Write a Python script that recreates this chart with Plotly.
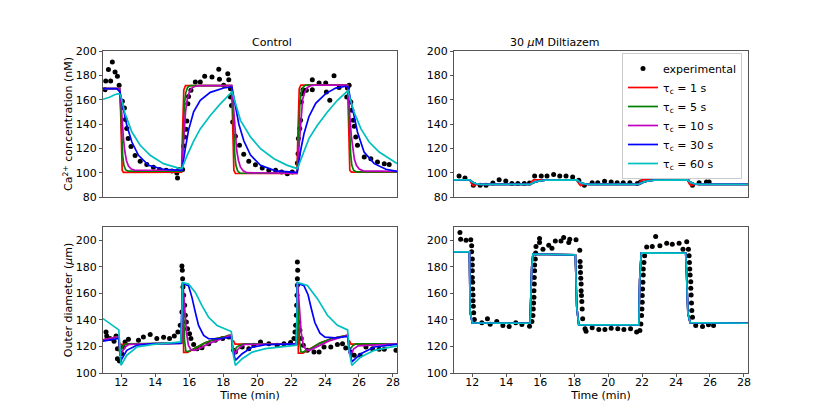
import plotly.graph_objects as go

# ---------------- Control: Ca2+ (top left) ----------------
ctrl_ca_exp_t = [11.04, 11.08, 11.24, 11.37, 11.47, 11.63, 11.77, 11.87, 12.06, 12.18, 12.24, 12.32, 12.40,
                 12.57, 12.81, 13.11, 13.50, 13.89, 14.25, 14.64, 14.98, 15.27, 15.31, 15.39, 15.61, 15.67,
                 15.73, 15.81, 15.86, 15.92, 15.96, 16.10, 16.36, 16.65, 16.91, 17.34, 17.74, 17.78, 18.03,
                 18.27, 18.33, 18.43, 18.43, 18.49, 18.56, 18.72, 18.96, 19.21, 19.51, 19.90, 20.30, 20.69,
                 21.09, 21.44, 21.78, 22.07, 22.37, 22.41, 22.43, 22.51, 22.56, 22.60, 22.66, 22.70, 22.90,
                 23.25, 23.25, 23.65, 24.04, 24.08, 24.28, 24.53, 24.83, 25.32, 25.28, 25.42, 25.52, 25.58,
                 25.66, 25.72, 25.81, 25.91, 26.31, 26.70, 27.09, 27.49, 27.78]
ctrl_ca_exp = [168.2, 175.3, 184.7, 175.3, 191.0, 182.7, 179.2, 171.8, 158.6, 153.2, 143.6, 136.2, 128.0,
               121.6, 114.2, 109.3, 106.8, 104.4, 102.5, 101.9, 101.4, 99.7, 95.6, 102.5, 102.5, 121.9,
               129.3, 135.6, 142.5, 156.7, 162.7, 167.7, 174.5, 174.5, 179.2, 178.6, 184.9, 176.7, 171.8,
               181.4, 176.4, 169.0, 162.2, 155.3, 141.6, 129.9, 122.5, 115.1, 109.3, 106.6, 103.8, 101.9,
               101.9, 100.5, 99.2, 100.5, 107.9, 115.6, 128.0, 136.2, 143.0, 158.1, 164.9, 168.2, 167.7,
               176.4, 168.2, 173.7, 173.7, 166.3, 159.5, 179.7, 169.9, 169.6, 162.2, 171.8, 158.1, 151.2,
               143.0, 138.1, 129.3, 122.5, 112.9, 111.5, 108.8, 107.4, 106.8]

ctrl_ca_t1 = [10.92, 11.90, 11.96, 12.00, 12.05, 12.12, 15.55, 15.59, 15.63, 15.68, 15.78, 18.50, 18.54, 18.58,
              18.63, 18.72, 22.35, 22.39, 22.43, 22.48, 22.58, 25.33, 25.37, 25.41, 25.46, 25.55, 28.24]
ctrl_ca_1 = [169, 169, 150, 115, 102, 100.3, 100.5, 125, 155, 168, 171.5, 171.5, 150, 115,
             102, 99.3, 99.3, 125, 155, 169, 172, 172, 150, 115, 102, 100.5, 100.5]

ctrl_ca_t5 = [10.92, 11.90, 11.96, 12.02, 12.08, 12.15, 12.25, 12.40, 15.55, 15.60, 15.66, 15.72, 15.80,
              15.90, 16.05, 18.50, 18.56, 18.62, 18.68, 18.75, 18.85, 19.00, 22.35, 22.40, 22.46, 22.52,
              22.60, 22.70, 22.85, 25.33, 25.39, 25.45, 25.51, 25.58, 25.68, 25.83, 28.24]
ctrl_ca_5 = [169, 169, 155, 130, 114, 106, 102.5, 101.2, 101.3, 115, 140, 157, 166,
             170, 171.5, 171.5, 157, 132, 115, 106, 101.5, 99.5, 99.5, 114, 139, 157,
             166, 170, 172, 172, 157, 132, 115, 106, 102, 100.7, 100.7]

ctrl_ca_t10 = [10.92, 11.90, 11.97, 12.04, 12.12, 12.20, 12.30, 12.42, 12.58, 12.80, 15.55, 15.62, 15.70,
               15.78, 15.88, 16.00, 16.15, 16.35, 16.60, 18.50, 18.57, 18.64, 18.72, 18.80, 18.90, 19.02,
               19.18, 19.40, 22.35, 22.42, 22.50, 22.58, 22.68, 22.80, 22.95, 23.15, 23.40, 25.33, 25.40,
               25.47, 25.55, 25.63, 25.73, 25.85, 26.01, 26.25, 28.24]
ctrl_ca_10 = [169, 169, 160, 144, 129, 118, 110, 105.5, 103, 102, 102, 115, 135,
              150, 160, 166, 169.5, 171, 171.5, 171.5, 161, 145, 129, 118, 110, 104.5,
              101.5, 100, 99.5, 113, 133, 149, 160, 166, 170, 171.5, 172, 172, 161,
              145, 130, 119, 111, 106, 103, 101.5, 101]

ctrl_ca_t30 = [10.92, 11.73, 11.92, 12.12, 12.32, 12.62, 13.01, 13.60, 14.48, 15.47, 15.57, 15.77, 15.96,
               16.26, 16.65, 17.24, 18.03, 18.45, 18.52, 18.72, 18.92, 19.22, 19.61, 20.20, 21.08, 22.30,
               22.37, 22.56, 22.76, 23.05, 23.45, 24.04, 24.63, 25.22, 25.35, 25.62, 25.91, 26.30, 26.90,
               27.59, 28.24]
ctrl_ca_30 = [169, 169, 166.3, 152.6, 138.9, 125.2, 114.3, 106.1, 102.8, 101.9, 102, 120, 135,
              150, 159.5, 166, 169.6, 170.4, 170, 155, 140, 126, 114.5, 106, 101.5, 100.2,
              100.5, 118, 132, 146, 157, 165, 169.5, 171, 170.5, 152.6, 133.4, 117, 107.4,
              102.8, 101]

ctrl_ca_t60 = [10.92, 11.30, 11.60, 11.85, 11.95, 12.22, 12.62, 13.11, 13.70, 14.48, 15.47, 15.57, 15.87,
               16.26, 16.65, 17.24, 17.83, 18.33, 18.52, 18.62, 19.02, 19.61, 20.20, 20.99, 21.78, 22.37,
               22.66, 23.05, 23.55, 24.14, 24.73, 25.22, 25.35, 25.42, 25.71, 26.11, 26.60, 27.19, 27.78,
               28.24]
ctrl_ca_60 = [160.3, 162, 164, 165, 164, 148.5, 133.4, 122.5, 114.3, 107.4, 103.3, 103.5, 114,
              126, 136, 147, 156.5, 164, 166.5, 162, 143, 129.3, 119.7, 111.5, 106, 103.3,
              114.3, 128, 138.9, 149.9, 159.5, 166.5, 167.5, 163.6, 149.9, 136.2, 125.2, 117, 111.5,
              107.5]

# ---------------- Diltiazem: Ca2+ (top right) ----------------
dil_ca_exp_t = [11.22, 11.57, 12.06, 12.46, 12.81, 13.21, 13.58, 13.97, 14.33, 14.68, 15.06, 15.37, 15.67,
                16.06, 16.40, 16.79, 17.15, 17.52, 17.91, 18.27, 18.60, 19.06, 19.39, 19.79, 20.18, 20.53,
                20.89, 21.28, 21.72, 21.91, 22.25, 22.60, 22.99, 23.39, 23.78, 24.18, 24.53, 24.77, 24.97,
                25.36, 25.79, 25.95]
dil_ca_exp = [97.3, 95.6, 89.6, 89.6, 89.6, 91.5, 94.2, 93.2, 91.0, 91.0, 91.0, 91.5, 97.3,
              97.3, 97.3, 98.4, 97.3, 97.3, 96.4, 93.7, 89.6, 91.8, 91.8, 92.9, 92.3, 91.8,
              91.8, 91.8, 91.0, 92.3, 97.3, 97.3, 97.3, 97.3, 97.3, 97.3, 97.3, 96.4, 89.6,
              91.8, 92.3, 92.3]

dil_ca_fast_t = [10.92, 11.85, 11.95, 12.05, 12.25, 15.40, 15.48, 15.60, 18.17, 18.27, 18.37, 18.60, 21.80,
                 21.88, 22.00, 24.67, 24.77, 24.87, 25.10, 28.24]
dil_ca_fast = [94, 94, 91, 89.3, 90.3, 90.3, 92.5, 94, 94, 91, 89.5, 90.3, 90.3,
               92.5, 94, 94, 91, 89.5, 90.4, 90.4]

dil_ca_slow_t = [10.92, 11.85, 12.00, 12.20, 12.50, 15.40, 15.60, 15.90, 16.30, 18.17, 18.32, 18.55, 18.85,
                 21.80, 22.00, 22.30, 22.70, 24.67, 24.82, 25.05, 25.35, 28.24]
dil_ca_slow = [94, 94, 92.3, 91, 90.4, 90.4, 91.8, 93, 93.8, 94, 92.3, 91, 90.3,
               90.3, 91.8, 93, 93.8, 94, 92.3, 91, 90.4, 90.4]

# ---------------- Control: diameter (bottom left) ----------------
ctrl_d_exp_t = [11.10, 11.14, 11.33, 11.57, 11.69, 11.77, 11.77, 11.89, 12.02, 12.12, 12.22, 12.42, 13.01,
                13.30, 13.70, 14.09, 14.49, 14.84, 15.12, 15.33, 15.47, 15.57, 15.57, 15.59, 15.61, 15.63,
                15.67, 15.73, 15.77, 15.83, 15.90, 16.02, 16.10, 16.26, 16.46, 16.75, 17.15, 17.54, 17.97,
                18.33, 18.62, 18.72, 19.12, 19.51, 19.81, 20.20, 20.69, 21.18, 21.58, 21.97, 22.17, 22.23,
                22.27, 22.31, 22.33, 22.35, 22.37, 22.37, 22.39, 22.37, 22.45, 22.52, 22.60, 22.72, 22.96,
                23.35, 23.65, 23.94, 24.34, 24.73, 25.03, 25.22, 25.52, 25.72, 26.07, 26.41, 26.80, 27.19,
                27.49, 28.18]
ctrl_d_exp = [130.9, 127.9, 125.9, 123.9, 127.9, 118.3, 110.8, 109.0, 114.6, 119.6, 123.4, 125.4, 124.6,
              127.1, 129.1, 125.9, 126.9, 125.9, 127.9, 130.9, 135.9, 146.0, 180.7, 177.4, 171.1, 164.8,
              158.5, 151.0, 143.5, 138.4, 133.4, 129.6, 125.9, 121.4, 118.3, 119.1, 122.1, 124.6, 125.9,
              127.1, 117.1, 115.8, 119.6, 118.3, 120.9, 123.4, 122.1, 120.9, 122.1, 122.9, 125.9, 130.9,
              135.9, 143.5, 151.0, 158.5, 166.1, 171.1, 177.4, 183.7, 138.4, 132.2, 125.9, 120.9, 117.1,
              115.8, 115.8, 119.6, 119.6, 121.4, 122.1, 118.8, 115.8, 113.3, 113.3, 119.6, 118.3, 117.8,
              117.8, 117.1]

ctrl_d_t1 = [10.92, 11.85, 11.90, 12.00, 15.55, 15.59, 15.61, 15.64, 15.67, 15.90, 16.30, 16.90, 17.60,
             18.48, 18.52, 18.62, 18.70, 22.33, 22.35, 22.37, 22.40, 22.43, 22.70, 23.10, 23.70, 24.40,
             25.33, 25.37, 25.45, 25.53, 28.24]
ctrl_d_1 = [125, 127.5, 121.5, 121.5, 122.5, 150, 168, 140, 115.5, 115.5, 118.5, 122.5, 126,
            128.5, 124.5, 124, 121.8, 121.8, 150, 168, 140, 115, 115, 118, 122.5, 126,
            128.5, 124.5, 124, 121.8, 121.8]

ctrl_d_t5 = [10.92, 11.85, 11.88, 12.00, 12.12, 12.35, 15.55, 15.59, 15.61, 15.66, 15.72, 15.80, 15.90,
             16.30, 16.90, 17.60, 18.48, 18.55, 18.66, 18.80, 18.96, 19.20, 22.33, 22.35, 22.37, 22.43,
             22.50, 22.58, 22.70, 23.10, 23.70, 24.40, 25.33, 25.40, 25.50, 25.63, 25.80, 28.24]
ctrl_d_5 = [125, 127.5, 116, 117.5, 120.8, 122, 122.5, 150, 168, 150, 125, 116.5, 116,
            118.5, 122.5, 126, 128.5, 118, 117, 119.5, 120.8, 122, 122, 150, 168, 148,
            124, 116, 115.8, 118, 122.5, 126, 128.5, 119.5, 118.3, 120.5, 122, 122]

ctrl_d_t10 = [10.92, 11.85, 11.92, 12.05, 12.22, 12.45, 15.55, 15.59, 15.61, 15.66, 15.74, 15.84, 15.95,
              16.10, 16.30, 16.60, 17.20, 17.90, 18.48, 18.58, 18.70, 18.85, 19.00, 19.25, 22.33, 22.35,
              22.37, 22.42, 22.50, 22.60, 22.72, 22.88, 23.10, 23.50, 24.20, 25.33, 25.43, 25.50, 25.68,
              25.95, 28.24]
ctrl_d_10 = [125, 127.5, 113.3, 116.5, 119.6, 121.6, 122.5, 150, 168, 162, 145, 130, 121,
             117.5, 117, 118.5, 122.5, 126, 128.5, 118, 114.5, 117.5, 119.5, 121.5, 122, 150,
             168, 162, 145, 130, 121, 117.5, 117.1, 119.5, 124, 128.4, 115, 113.3, 118,
             120.4, 122]

ctrl_d_t30 = [10.92, 11.85, 11.98, 12.32, 12.91, 13.90, 15.50, 15.57, 15.61, 15.96, 16.16, 16.36, 16.55,
              16.85, 17.14, 17.73, 18.48, 18.56, 18.72, 19.12, 19.71, 20.49, 21.68, 22.30, 22.35, 22.37,
              22.75, 23.00, 23.20, 23.40, 23.70, 24.00, 24.60, 25.33, 25.42, 25.58, 26.11, 26.90, 28.24]
ctrl_d_30 = [124, 126, 109.5, 117.1, 120.9, 122.1, 122.3, 145, 167.5, 165.7, 157, 145.7, 135.8,
             128.3, 125.8, 125.8, 127, 118, 109.5, 114.5, 119.5, 121.3, 122, 122, 145, 167.5,
             166, 159, 148, 138, 130, 127, 126.5, 127.5, 120, 108.3, 114.6, 119.6, 121.6]

ctrl_d_t60 = [10.92, 11.30, 11.73, 11.85, 11.98, 12.32, 12.91, 13.90, 15.08, 15.50, 15.57, 15.61, 15.96,
              16.36, 16.75, 17.14, 17.64, 18.13, 18.48, 18.58, 18.72, 19.12, 19.71, 20.49, 21.68, 22.30,
              22.35, 22.37, 22.96, 23.55, 24.14, 24.73, 25.33, 25.43, 25.58, 26.11, 26.90, 28.24]
ctrl_d_60 = [141, 137.5, 133.4, 132.5, 105.8, 113.3, 119.6, 121.6, 122.9, 123.4, 145, 168.2, 167,
             160.7, 150.7, 142, 135.8, 133.3, 131.3, 115, 105.8, 110.8, 115.7, 118.3, 120.2, 121,
             145, 168.2, 166, 156, 143.5, 135.9, 132.5, 116, 105.8, 112.1, 117.1, 120.4]

# ---------------- Diltiazem: diameter (bottom right) ----------------
dil_d_exp_t = [11.27, 11.31, 11.63, 11.91,
               11.96, 11.96, 12.00, 12.00, 12.00, 12.00, 12.02, 12.02, 12.04, 12.04, 12.06, 12.08,
               12.12, 12.56, 12.89, 13.05, 13.44, 13.80, 14.17, 14.56, 14.92, 15.37, 15.51,
               15.57, 15.59, 15.61, 15.63, 15.63, 15.65, 15.65, 15.67, 15.67, 15.71, 15.73, 15.75,
               15.96, 15.96, 16.16, 16.50, 16.69, 16.89, 17.22, 17.38, 17.68, 17.74, 18.11,
               18.33, 18.35, 18.36, 18.37, 18.39, 18.41, 18.41, 18.43, 18.45, 18.47, 18.50, 18.64, 18.70,
               19.06, 19.45, 19.81, 20.18, 20.57, 20.93, 21.32, 21.68, 21.87,
               21.93, 21.97, 21.99, 22.01, 22.01, 22.03, 22.05, 22.07, 22.07, 22.11, 22.15, 22.27,
               22.60, 22.80, 23.05, 23.45, 23.78, 24.18, 24.41, 24.63, 24.73,
               24.77, 24.79, 24.81, 24.83, 24.87, 24.87, 24.89, 24.91, 24.93, 24.97,
               25.16, 25.56, 25.91, 26.21]
dil_d_exp = [205.8, 200.8, 200.0, 200.3,
             195.8, 191.3, 185.8, 181.3, 177.0, 172.0, 168.3, 163.3, 158.8, 154.5, 150.3, 145.3,
             140.3, 137.8, 140.8, 136.8, 138.8, 135.8, 135.0, 137.8, 136.5, 135.3, 138.8,
             143.3, 148.3, 152.8, 157.0, 162.0, 167.0, 172.0, 177.0, 181.3, 185.8, 190.5, 195.3,
             201.3, 198.3, 193.3, 196.3, 194.0, 199.5, 199.5, 202.0, 198.3, 200.8, 200.3,
             192.5, 184.0, 180.0, 175.8, 171.3, 167.0, 162.0, 158.3, 153.8, 148.3, 140.8, 133.3, 131.5,
             134.0, 132.8, 132.8, 133.8, 133.3, 132.8, 133.3, 130.8, 132.0,
             137.0, 143.3, 148.3, 153.3, 158.3, 163.3, 168.3, 173.8, 178.3, 183.3, 188.3, 195.0,
             195.3, 202.8, 195.8, 197.8, 197.0, 197.8, 193.3, 198.8, 193.3,
             188.3, 183.3, 178.3, 173.8, 168.8, 163.8, 158.8, 152.8, 147.0, 142.0,
             135.8, 135.0, 136.3, 135.8]

dil_d_model_t = [10.92, 11.83, 11.87, 12.00, 15.40, 15.45, 15.50, 15.57, 18.07, 18.15, 18.27, 21.81, 21.86,
                 21.95, 24.57, 24.62, 24.70, 24.83, 28.24]
dil_d_model = [191.3, 191.3, 145.8, 137.8, 137.5, 170, 180, 189.5, 189, 150, 136.3, 136.3, 170,
               190.5, 190.3, 175, 145, 138, 137.5]

tau_names = ["τ<sub>c</sub> = 1 s", "τ<sub>c</sub> = 5 s", "τ<sub>c</sub> = 10 s",
             "τ<sub>c</sub> = 30 s", "τ<sub>c</sub> = 60 s"]
tau_colors = ["#ff0000", "#008000", "#bf00bf", "#0000ff", "#00bfbf"]

ctrl_ca_curves = [(ctrl_ca_t1, ctrl_ca_1), (ctrl_ca_t5, ctrl_ca_5), (ctrl_ca_t10, ctrl_ca_10),
                  (ctrl_ca_t30, ctrl_ca_30), (ctrl_ca_t60, ctrl_ca_60)]
dil_ca_curves = [(dil_ca_fast_t, dil_ca_fast), (dil_ca_slow_t, dil_ca_slow), (dil_ca_slow_t, dil_ca_slow),
                 (dil_ca_slow_t, dil_ca_slow), (dil_ca_slow_t, dil_ca_slow)]
ctrl_d_curves = [(ctrl_d_t1, ctrl_d_1), (ctrl_d_t5, ctrl_d_5), (ctrl_d_t10, ctrl_d_10),
                 (ctrl_d_t30, ctrl_d_30), (ctrl_d_t60, ctrl_d_60)]
dil_d_curves = [(dil_d_model_t, dil_d_model)] * 5

panels = [
    ("x", "y", ctrl_ca_exp_t, ctrl_ca_exp, ctrl_ca_curves, False),
    ("x2", "y2", dil_ca_exp_t, dil_ca_exp, dil_ca_curves, True),
    ("x3", "y3", ctrl_d_exp_t, ctrl_d_exp, ctrl_d_curves, False),
    ("x4", "y4", dil_d_exp_t, dil_d_exp, dil_d_curves, False),
]

fig = go.Figure()
for xa, ya, et, ev, curves, legend in panels:
    fig.add_trace(go.Scatter(x=et, y=ev, mode="markers", name="experimental", xaxis=xa, yaxis=ya,
                             marker=dict(color="black", size=5), showlegend=legend))
    for (ct, cv), name, col in zip(curves, tau_names, tau_colors):
        fig.add_trace(go.Scatter(x=ct, y=cv, mode="lines", name=name, xaxis=xa, yaxis=ya,
                                 line=dict(color=col, width=1.7), showlegend=legend))

# the page body has an 8 px margin, so positions below are the reference ones minus 8 px
font = "DejaVu Sans, Arial, sans-serif"
ax = dict(showline=True, mirror=True, linecolor="#555", linewidth=1, ticks="outside", ticklen=3,
          tickcolor="#555", tickfont=dict(size=11, color="black"), showgrid=False, zeroline=False)
xr = [10.92, 28.24]
left = [95 / 831, 389 / 831]
right = [446 / 831, 740 / 831]
top = [1 - 189 / 419, 1 - 43 / 419]
bottom = [1 - 365 / 419, 1 - 219 / 419]

fig.update_layout(
    width=831, height=419, template="none",
    margin=dict(l=0, r=0, t=0, b=0),
    paper_bgcolor="white", plot_bgcolor="white",
    font=dict(family=font, size=11, color="black"),
    xaxis=dict(ax, domain=left, anchor="y", range=xr, showticklabels=False, ticks=""),
    yaxis=dict(ax, domain=top, anchor="x", range=[80, 200], dtick=20,
               title=dict(text="Ca<sup>2+</sup> concentration (nM)", font=dict(size=11), standoff=0)),
    xaxis2=dict(ax, domain=right, anchor="y2", range=xr, showticklabels=False, ticks=""),
    yaxis2=dict(ax, domain=top, anchor="x2", range=[80, 200], dtick=20),
    xaxis3=dict(ax, domain=left, anchor="y3", range=xr, dtick=2, ticklabelstandoff=-4,
                title=dict(text="Time (min)", font=dict(size=11), standoff=0)),
    yaxis3=dict(ax, domain=bottom, anchor="x3", range=[100, 210], tickvals=[100, 120, 140, 160, 180, 200],
                title=dict(text="Outer diameter (<i>μ</i>m)", font=dict(size=11), standoff=0)),
    xaxis4=dict(ax, domain=right, anchor="y4", range=xr, dtick=2, ticklabelstandoff=-4,
                title=dict(text="Time (min)", font=dict(size=11), standoff=0)),
    yaxis4=dict(ax, domain=bottom, anchor="x4", range=[100, 210], tickvals=[100, 120, 140, 160, 180, 200]),
    legend=dict(x=734 / 831, y=1 - 45 / 419, xanchor="right", yanchor="top", bgcolor="white",
                bordercolor="#cccccc", borderwidth=1, font=dict(size=11), itemwidth=30,
                tracegroupgap=0),
    annotations=[
        dict(text="Control", x=(left[0] + left[1]) / 2, y=1 - 35 / 419, xref="paper", yref="paper",
             yanchor="middle", showarrow=False, font=dict(size=11)),
        dict(text="30 <i>μ</i>M Diltiazem", x=(right[0] + right[1]) / 2, y=1 - 35 / 419, xref="paper",
             yref="paper", yanchor="middle", showarrow=False, font=dict(size=11)),
    ],
)

fig.write_html("out.html")
